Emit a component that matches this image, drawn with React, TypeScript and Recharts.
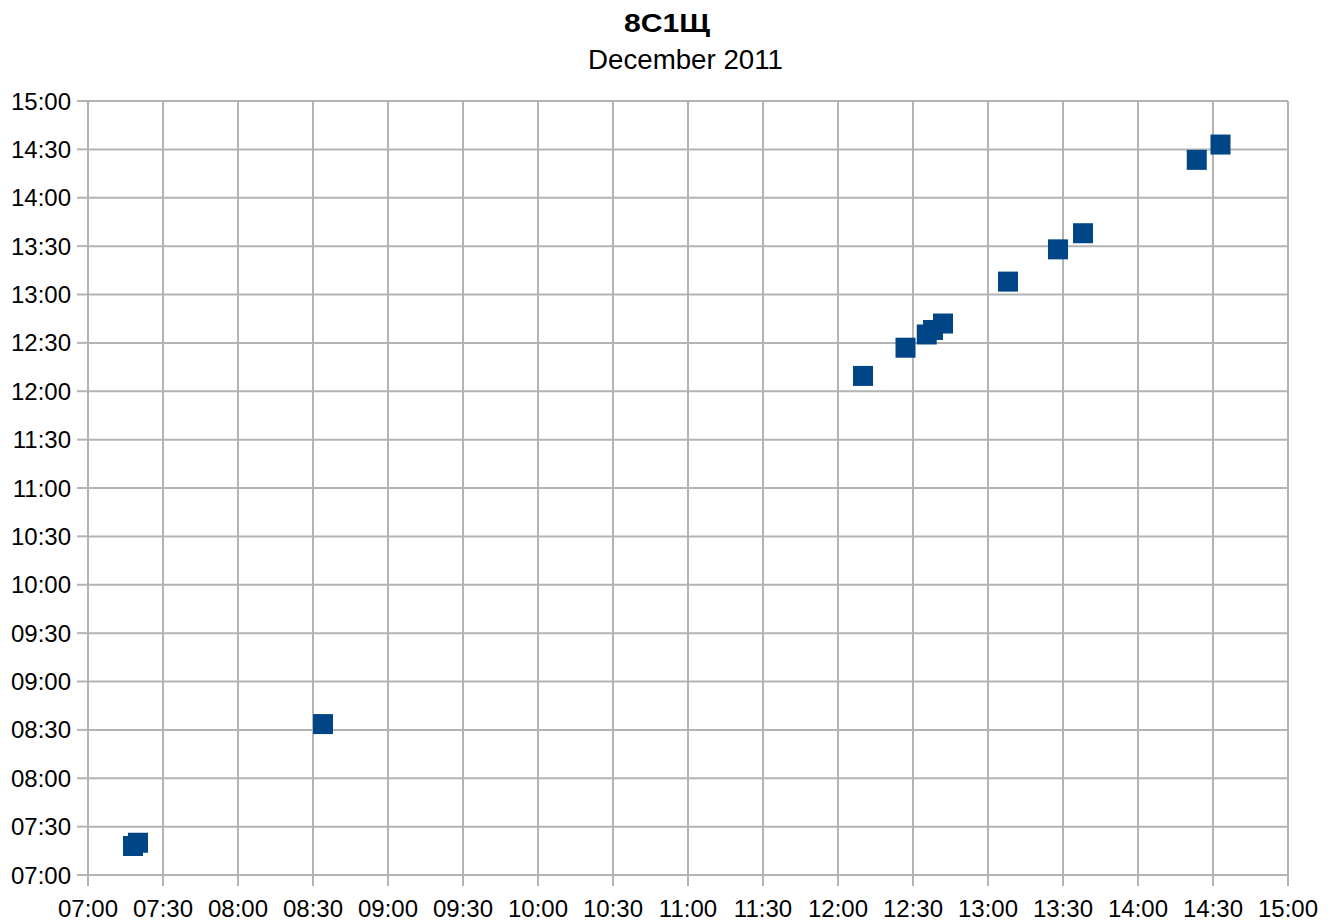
import React from "react";
import {
  ScatterChart,
  Scatter,
  XAxis,
  YAxis,
  CartesianGrid,
} from "recharts";

// Times in minutes after midnight
const xTimes: number[] = [438, 440, 514, 730, 747, 755.5, 758, 762, 788, 808, 818, 863.5, 873];
const yTimes: number[] = [438, 440, 513.6, 729.5, 747, 755.2, 758, 762, 788, 808, 818, 863.5, 873];

const tickValues: number[] = [420, 450, 480, 510, 540, 570, 600, 630, 660, 690, 720, 750, 780, 810, 840, 870, 900];
const tickLabels: string[] = [
  "07:00", "07:30", "08:00", "08:30", "09:00", "09:30", "10:00", "10:30",
  "11:00", "11:30", "12:00", "12:30", "13:00", "13:30", "14:00", "14:30", "15:00",
];

const title = "8C1Щ";
const subtitle = "December 2011";

const data = xTimes.map((x, i) => ({ x, y: yTimes[i] }));

const fmt = (v: number) => {
  const i = tickValues.indexOf(v);
  return i >= 0 ? tickLabels[i] : "";
};

const SquareShape = (props: any) => {
  const { cx, cy } = props;
  if (cx == null || cy == null) return null;
  const s = 20;
  return <rect x={cx - s / 2} y={cy - s / 2} width={s} height={s} fill="#004586" />;
};

const FONT = "'Liberation Sans', Arial, sans-serif";

export default function App() {
  return (
    <div style={{ position: "absolute", left: 0, top: 0, width: 1335, height: 924, background: "#fff" }}>
      <svg width={1335} height={110} style={{ position: "absolute", left: 0, top: 0 }}>
        <text
          x={667}
          y={31.5}
          textAnchor="middle"
          fontFamily={FONT}
          fontWeight="bold"
          fontSize={26}
          fill="#000"
          textLength={86}
          lengthAdjust="spacingAndGlyphs"
        >
          {title}
        </text>
        <text
          x={685.5}
          y={68.5}
          textAnchor="middle"
          fontFamily={FONT}
          fontSize={27}
          fill="#000"
          textLength={195}
          lengthAdjust="spacingAndGlyphs"
        >
          {subtitle}
        </text>
      </svg>
      <div style={{ position: "absolute", left: 0, top: 0 }}>
        <ScatterChart
          width={1335}
          height={924}
          margin={{ top: 101, right: 47, bottom: 0, left: 0 }}
        >
          <CartesianGrid stroke="#b3b3b3" strokeWidth={2} />
          <XAxis
            type="number"
            dataKey="x"
            domain={[420, 900]}
            ticks={tickValues}
            tickFormatter={fmt}
            height={49}
            tickSize={11}
            tickMargin={14}
            interval={0}
            stroke="#b3b3b3"
            strokeWidth={2}
            tick={{ fill: "#000", fontSize: 24, fontFamily: FONT }}
            allowDataOverflow
          />
          <YAxis
            type="number"
            dataKey="y"
            domain={[420, 900]}
            ticks={tickValues}
            tickFormatter={fmt}
            width={88}
            tickSize={11}
            tickMargin={6}
            interval={0}
            stroke="#b3b3b3"
            strokeWidth={2}
            tick={{ fill: "#000", fontSize: 24, fontFamily: FONT }}
            allowDataOverflow
          />
          <Scatter data={data} shape={SquareShape} isAnimationActive={false} />
        </ScatterChart>
      </div>
    </div>
  );
}
